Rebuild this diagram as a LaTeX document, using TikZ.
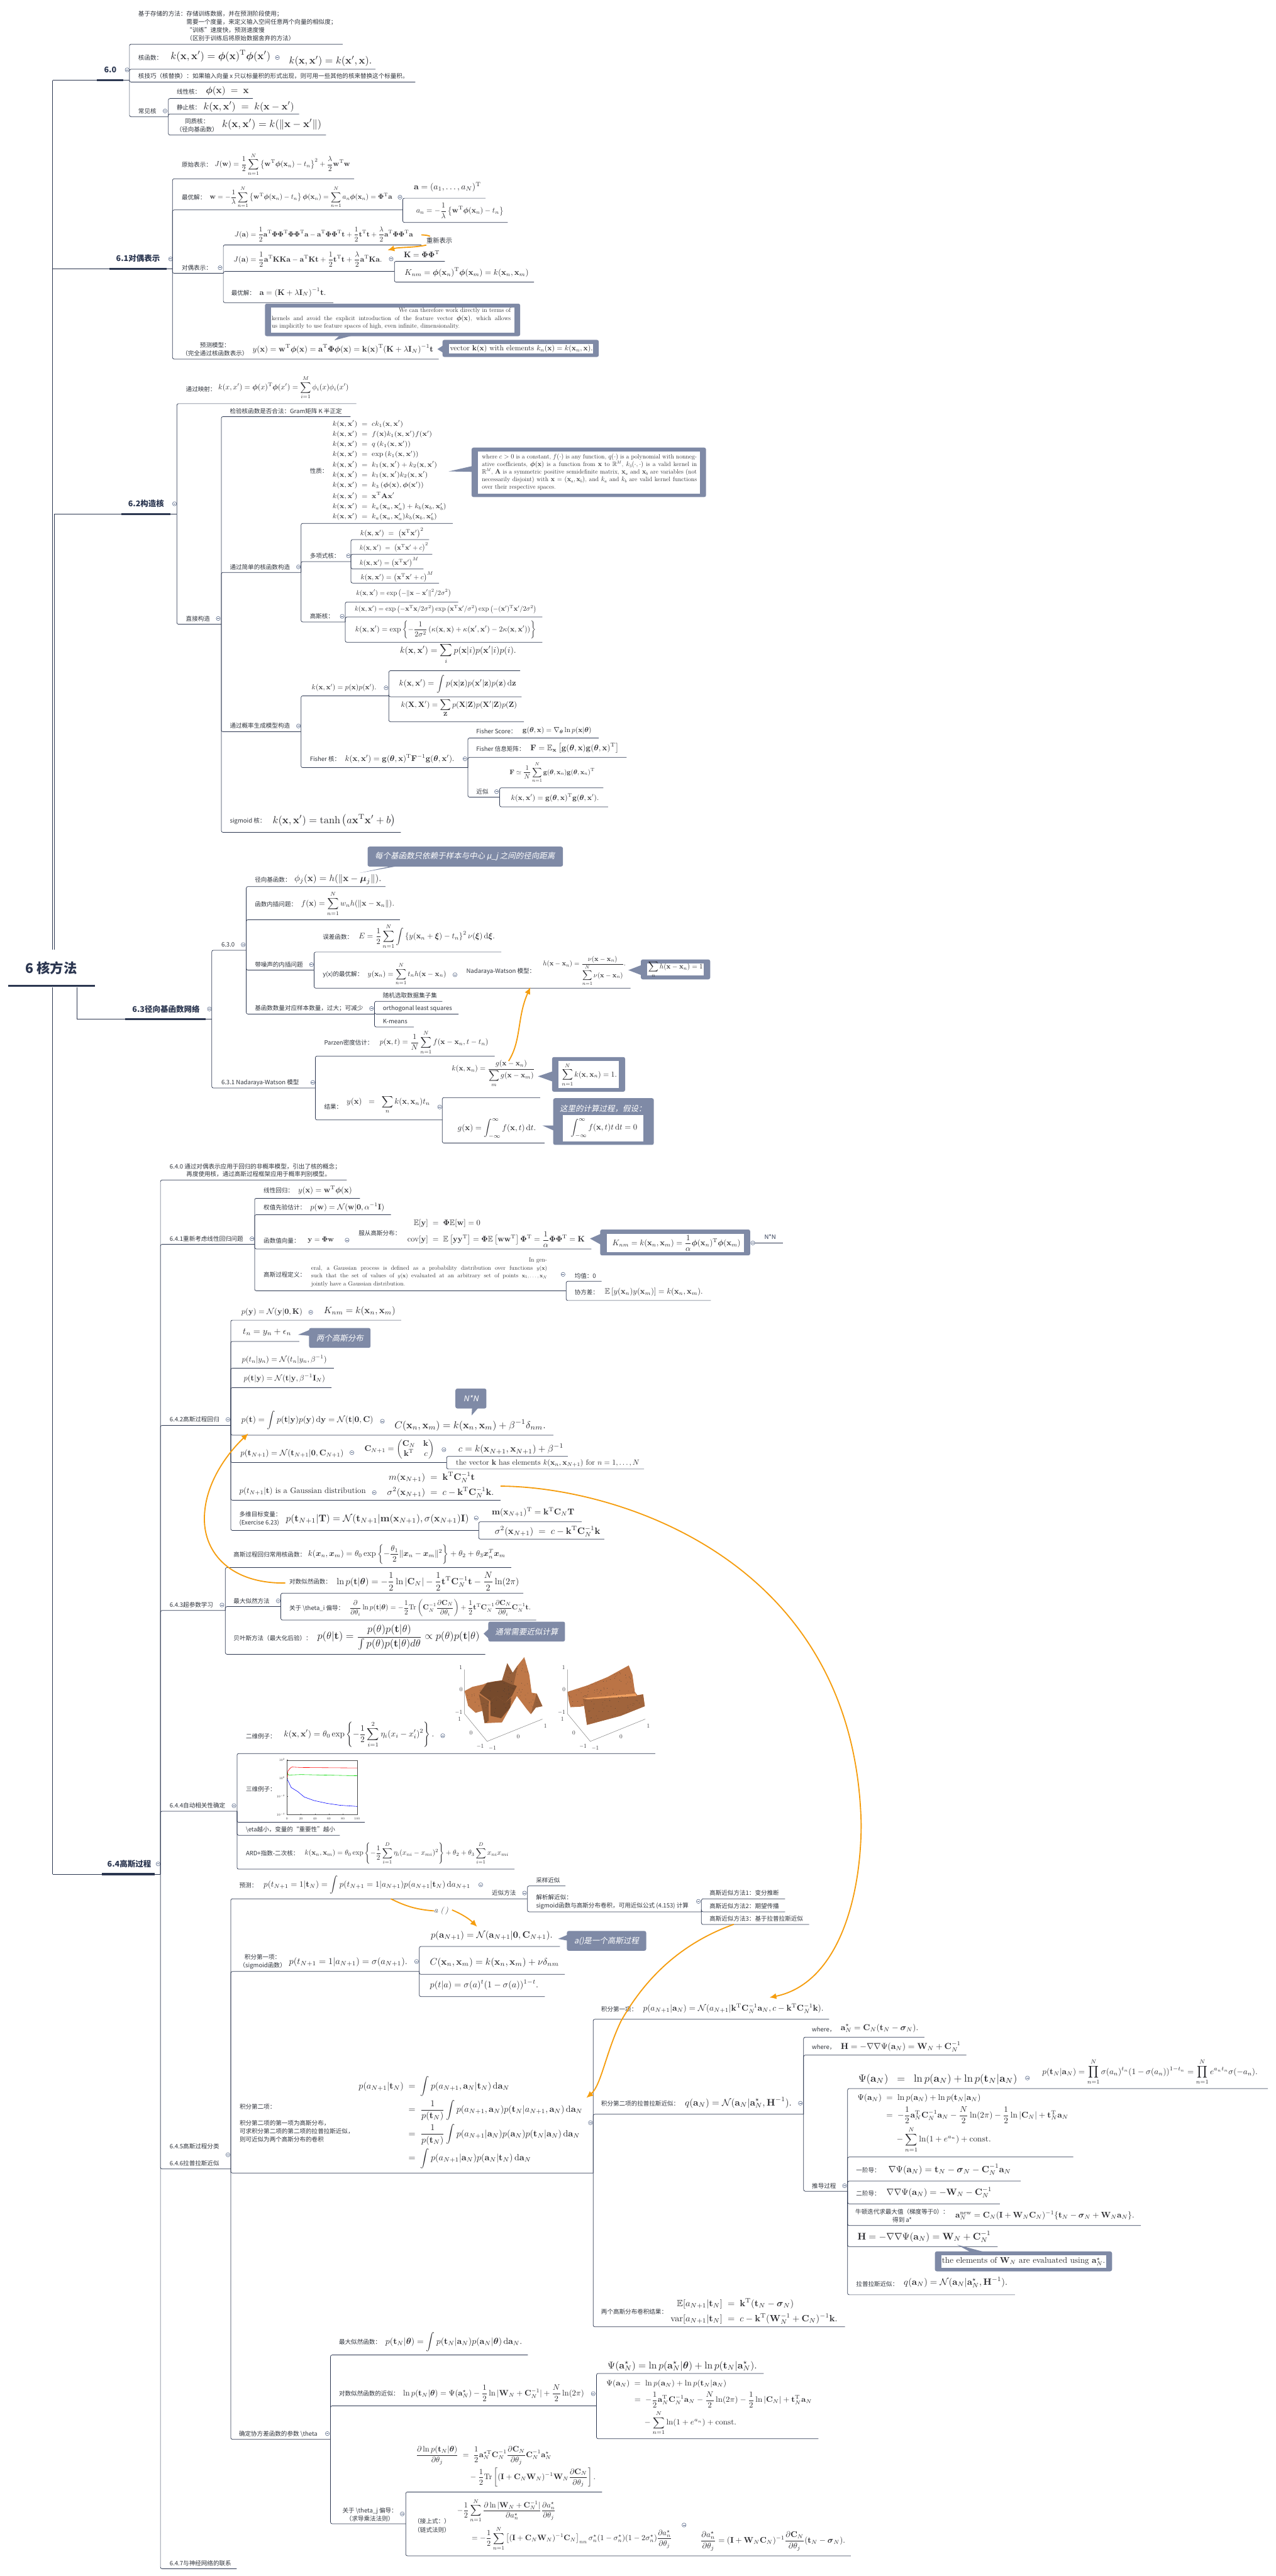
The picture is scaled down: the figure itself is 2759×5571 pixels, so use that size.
\documentclass[tikz,border=0pt]{standalone}
\usepackage{amsmath,amssymb,graphicx}
\usepackage[no-math]{fontspec}
\usetikzlibrary{arrows.meta}
\newfontfamily\cjk{Noto Sans CJK SC}
\newfontfamily\cjkit[FakeSlant=0.2]{Noto Sans CJK SC}
\definecolor{ink}{HTML}{2B3650}
\definecolor{txt}{HTML}{30343C}
\definecolor{calf}{HTML}{7F8AA6}
\definecolor{org}{HTML}{F59D0E}
\definecolor{colm}{HTML}{5A6A8A}
\definecolor{fcol}{HTML}{26262A}
\def\bx{\mathbf{x}}\def\bxp{\mathbf{x}'}\def\ba{\mathbf{a}}\def\bt{\mathbf{t}}\def\bk{\mathbf{k}}
\def\bC{\mathbf{C}}\def\bK{\mathbf{K}}\def\bW{\mathbf{W}}\def\bI{\mathbf{I}}\def\bH{\mathbf{H}}
\def\bF{\mathbf{F}}\def\bg{\mathbf{g}}\def\bw{\mathbf{w}}\def\by{\mathbf{y}}\def\bz{\mathbf{z}}
\def\bA{\mathbf{A}}\def\bX{\mathbf{X}}\def\bZ{\mathbf{Z}}\def\bT{\mathbf{T}}
\def\vphi{\boldsymbol{\phi}}\def\bPhi{\mathbf{\Phi}}\def\bth{\boldsymbol{\theta}}\def\bsig{\boldsymbol{\sigma}}
\def\TT{\mathrm{T}}\def\dd{\mathrm{d}}\def\NN{\mathcal{N}}\def\EE{\mathbb{E}}
\def\kxx{k(\bx,\bxp)}
\tikzset{
 conn/.style={draw=ink,line width=1pt,rounded corners=3.5pt},
 thick/.style={draw=ink,line width=5pt},
 lab/.style={font=\cjk\fontsize{13}{17.5}\selectfont,text=txt,inner sep=0pt,anchor=west,align=left},
 labc/.style={font=\cjk\fontsize{13}{18}\selectfont,text=txt,inner sep=0pt,align=center},
 ttl/.style={font=\cjk\bfseries\fontsize{17}{20}\selectfont,text=ink,inner sep=0pt,anchor=west},
 calt/.style={font=\cjkit\fontsize{17}{20}\selectfont,text=white,inner sep=0pt},
 fmn/.style={inner sep=0pt,anchor=west,text=fcol},
 para/.style={font=\fontsize{13.3}{17}\selectfont,text=fcol,inner sep=0pt,anchor=north west,align=justify},
 colc/.style={draw=colm,line width=.8pt},
 oarr/.style={draw=org,line width=2.5pt,-{Latex[length=15pt,width=13pt]}},
 oline/.style={draw=org,line width=2.5pt},
 tick/.style={font=\fontsize{13}{14}\selectfont,text=fcol,inner sep=0pt},
 tick2/.style={font=\fontsize{7}{8}\selectfont,text=fcol,inner sep=0pt},
}
\newcommand\tp[4]{\coordinate (#1-l) at (#2-r |- 0,#4);\coordinate (#1-r) at (#3,#4);\draw[conn] (#1-r) -- (#1-l) -- (#2-r);}
\newcommand\lab[4]{\node[lab] (#1) at (#2,#3) {#4};}
\newcommand\labc[4]{\node[labc] (#1) at (#2,#3) {#4};}
\newcommand\fm[5]{\node[fmn] (#1) at (#2,#4) {\resizebox{\dimexpr #3pt-#2pt\relax}{!}{$\displaystyle #5$}};}
\newcommand\fmb[6]{\node[fmn] (#1) at (#2,{(#4+#5)/2}) {\resizebox*{\dimexpr #3pt-#2pt\relax}{\dimexpr #5pt-#4pt\relax}{$\displaystyle #6$}};}
\newcommand\col[2]{\draw[colc] (#1,#2) circle[radius=4.4pt];\draw[colc] (#1,#2) ++(-2.6pt,0) -- ++(5.2pt,0);}
\newcommand\calrect[8]{\fill[calf,rounded corners=4pt] (#1,#2) rectangle (#3,#4);\fill[white] (#5,#6) rectangle (#7,#8);}
\newcommand\calsolid[4]{\fill[calf,rounded corners=4pt] (#1,#2) rectangle (#3,#4);}
\newcommand\tail[6]{\fill[calf] (#1,#2) -- (#3,#4) -- (#5,#6) -- cycle;}
\newcommand\head[6]{\coordinate (#1-l) at (#2,#6);\coordinate (#1-r) at (#5,#6);\draw[conn,rounded corners=0pt] (#1-l) -- (#1-r);\draw[thick] (#3,#6) -- (#4,#6);}
\begin{document}
\begin{tikzpicture}[x=1pt,y=-1pt]
\path[use as bounding box] (0,0) rectangle (2759,5571);
% ===== root
\coordinate (root-up) at (114,2054);
\coordinate (root-up2) at (117.5,2054);
\coordinate (root-dn) at (114,2135);
\coordinate (root-br) at (166.5,2135);
\node[font=\cjk\bfseries\fontsize{29}{32}\selectfont,text=ink,inner sep=0pt,anchor=west] (root) at (55,2094) {6 核方法};
\draw[thick] (18,2132) -- (205,2132);
% ===== level 1
\head{h0}{114}{210}{267}{280}{173.5}
\draw[conn] (h0-l) -- (root-up);
\node[ttl] (t0) at (225,150.5) {6.0}; \col{275}{151}
\head{h1}{114}{236}{360}{373}{581.5}
\draw[conn] (h1-l) -- (root-up);
\node[ttl] (t1) at (251,559) {6.1对偶表示}; \col{369}{560}
\head{h2}{117.5}{262}{369}{382.5}{1112}
\draw[conn] (h2-l) -- (root-up2);
\node[ttl] (t2) at (277,1089) {6.2构造核}; \col{377.5}{1089.5}
\head{h3}{166.5}{270}{445}{458}{2204}
\draw[conn] (h3-l) -- (root-br);
\node[ttl] (t3) at (286,2182) {6.3径向基函数网络}; \col{453}{2182}
\head{h4}{114}{220}{334}{347}{4053}
\draw[conn] (h4-l) -- (root-dn);
\node[ttl] (t4) at (232,4031) {6.4高斯过程}; \col{342}{4031}
% ===== 6.0
\tp{a1}{h0}{741}{95.4}
\node[lab] (a1t) at (299,56) {基于存储的方法：存储训练数据，并在预测阶段使用；\\\hspace*{104pt}需要一个度量，来定义输入空间任意两个向量的相似度；\\\hspace*{104pt}“训练”速度快，预测速度慢\\\hspace*{104pt}（区别于训练后将原始数据舍弃的方法）};
\tp{a2}{h0}{812}{149.5}
\lab{a2t}{299}{125}{核函数：}
\fm{a2f}{369}{585}{121.5}{\kxx=\vphi(\bx)^{\TT}\vphi(\bxp)} \col{600}{124.5}
\fm{a2g}{625}{804}{132.6}{\kxx=k(\bxp,\bx).}
\tp{a3}{h0}{898}{177.5}
\lab{a3t}{299}{165}{核技巧（核替换）：如果输入向量 x 只以标量积的形式出现，则可用一些其他的核来替换这个标量积。}
\tp{a4}{h0}{364}{252.5}
\lab{a4t}{299}{240}{常见核} \col{357}{240}
\tp{a41}{a4}{547}{213}
\lab{a41t}{382}{198}{线性核：} \fm{a41f}{445}{538}{197}{\vphi(\bx)\;=\;\bx}
\tp{a42}{a4}{647}{246.4}
\lab{a42t}{382}{232}{静止核：} \fm{a42f}{440}{636}{231}{\kxx\;=\;k(\bx-\bxp)}
\tp{a43}{a4}{705}{292}
\labc{a43t}{426}{271}{同质核：\\（径向基函数）} \fm{a43f}{480}{695}{269}{\kxx=k(\|\bx-\bxp\|)}
% ===== 6.1
\tp{b1}{h1}{766}{386.7}
\lab{b1t}{393}{355.6}{原始表示：}
\fm{b1f}{464}{757}{355.6}{J(\bw)=\frac12\sum_{n=1}^N\left\{\bw^{\TT}\vphi(\bx_n)-t_n\right\}^2+\frac\lambda2\bw^{\TT}\bw}
\tp{b2}{h1}{871}{454}
\lab{b2t}{393}{426.5}{最优解：}
\fm{b2f}{453.6}{848}{426.5}{\bw=-\frac1\lambda\sum_{n=1}^N\left\{\bw^{\TT}\vphi(\bx_n)-t_n\right\}\vphi(\bx_n)=\sum_{n=1}^N a_n\vphi(\bx_n)=\bPhi^{\TT}\ba} \col{865}{426.5}
\tp{b21}{b2}{1050}{428.6}
\fm{b21f}{895}{1040}{404.6}{\ba=(a_1,\dots,a_N)^{\TT}}
\tp{b22}{b2}{1098}{481}
\fm{b22f}{900}{1089}{455.6}{a_n=-\frac1\lambda\left\{\bw^{\TT}\vphi(\bx_n)-t_n\right\}}
\tp{b3}{h1}{483}{591}
\lab{b3t}{393}{579}{对偶表示：} \col{476}{579}
\tp{b31}{b3}{911}{529.6}
\fm{b31f}{507}{893}{506.6}{J(\ba)=\frac12\ba^{\TT}\bPhi\bPhi^{\TT}\bPhi\bPhi^{\TT}\ba-\ba^{\TT}\bPhi\bPhi^{\TT}\bt+\frac12\bt^{\TT}\bt+\frac\lambda2\ba^{\TT}\bPhi\bPhi^{\TT}\ba}
\tp{b32}{b3}{853}{587}
\fm{b32f}{505}{826}{561}{J(\ba)=\frac12\ba^{\TT}\bK\bK\ba-\ba^{\TT}\bK\bt+\frac12\bt^{\TT}\bt+\frac\lambda2\ba^{\TT}\bK\ba.} \col{846}{560}
\tp{b321}{b32}{962}{565}
\fm{b321f}{873}{951}{549.5}{\bK=\bPhi\bPhi^{\TT}}
\tp{b322}{b32}{1155}{610}
\fm{b322f}{875}{1143}{589}{K_{nm}=\vphi(\bx_n)^{\TT}\vphi(\bx_m)=k(\bx_n,\bx_m)}
\tp{b33}{b3}{721}{654.6}
\lab{b33t}{500}{634}{最优解：} \fm{b33f}{561}{705}{632.6}{\ba=(\bK+\lambda\bI_N)^{-1}\bt.}
\tp{b4}{h1}{949}{776.5}
\labc{b4t}{465}{755}{预测模型：\\（完全通过核函数表示）}
\fm{b4f}{546}{937}{755}{y(\bx)=\bw^{\TT}\vphi(\bx)=\ba^{\TT}\bPhi\vphi(\bx)=\bk(\bx)^{\TT}(\bK+\lambda\bI_N)^{-1}\bt}
% callouts 6.1
\tail{723}{736}{735}{725}{765}{725}
\calrect{573}{656.6}{1125}{727}{586}{665}{1112}{719}
\node[para,text width=517pt] (b5t) at (587.5,666) {\hspace*{\fill}We can therefore work directly in terms of\linebreak kernels and avoid the explicit introduction of the feature vector $\vphi(\bx)$, which allows\linebreak us implicitly to use feature spaces of high, even infinite, dimensionality.};
\tail{946}{755}{960}{746}{960}{764}
\calrect{957}{735}{1295}{772}{971}{744}{1282}{764}
\node[fmn] (b6t) at (973,754) {\resizebox{309pt}{!}{vector $\bk(\bx)$ with elements $k_n(\bx)=k(\bx_n,\bx)$.}};
% orange 1
\node[lab,font=\cjk\fontsize{14}{16}\selectfont] (chg) at (922,520) {重新表示};
\coordinate (o1s) at (911,508); \coordinate (o1e) at (838,541);
\draw[oline] (o1s) .. controls (918,508) and (926,509) .. (930,511);
\draw[oarr] (922,530) .. controls (895,536) and (865,534) .. (o1e);
% ===== 6.2
\tp{c1}{h2}{770.5}{873}
\lab{c1t}{402}{841.5}{通过映射：}
\fm{c1f}{472}{754}{838}{k(x,x')=\vphi(x)^{\TT}\vphi(x')=\sum_{i=1}^M\phi_i(x)\phi_i(x')}
\tp{c2}{h2}{478.6}{1350}
\lab{c2t}{402}{1337.6}{直接构造} \col{472}{1337.6}
\tp{c3}{c2}{758}{901}
\lab{c3t}{497}{889}{检验核函数是否合法：Gram矩阵 K 半正定}
\tp{c4}{c2}{651}{1238}
\lab{c4t}{497}{1226}{通过简单的核函数构造} \col{645.6}{1226}
\tp{c41}{c4}{979}{1132}
\lab{c41t}{670}{1019}{性质：}
\fmb{c41f}{719}{965}{909}{1127}{\begin{aligned}\kxx&\;=\;ck_1(\bx,\bxp)\\\kxx&\;=\;f(\bx)k_1(\bx,\bxp)f(\bxp)\\\kxx&\;=\;q\left(k_1(\bx,\bxp)\right)\\\kxx&\;=\;\exp\left(k_1(\bx,\bxp)\right)\\\kxx&\;=\;k_1(\bx,\bxp)+k_2(\bx,\bxp)\\\kxx&\;=\;k_1(\bx,\bxp)k_2(\bx,\bxp)\\\kxx&\;=\;k_3\left(\vphi(\bx),\vphi(\bxp)\right)\\\kxx&\;=\;\bx^{\TT}\bA\bxp\\\kxx&\;=\;k_a(\bx_a,\bx_a')+k_b(\bx_b,\bx_b')\\\kxx&\;=\;k_a(\bx_a,\bx_a')k_b(\bx_b,\bx_b')\end{aligned}}
\tail{970.5}{1019.4}{1021}{1008}{1021}{1020.5}
\calrect{1020}{968}{1527}{1075}{1034}{977}{1514}{1067}
\node[para,font=\fontsize{13.4}{16.5}\selectfont,text width=465pt] (c41c) at (1042,981) {where $c>0$ is a constant, $f(\cdot)$ is any function, $q(\cdot)$ is a polynomial with nonneg-\linebreak ative coefficients, $\vphi(\bx)$ is a function from $\bx$ to $\mathbb{R}^M$, $k_3(\cdot,\cdot)$ is a valid kernel in\linebreak $\mathbb{R}^M$, $\bA$ is a symmetric positive semidefinite matrix, $\bx_a$ and $\bx_b$ are variables (not\linebreak necessarily disjoint) with $\bx=(\bx_a,\bx_b)$, and $k_a$ and $k_b$ are valid kernel functions\linebreak over their respective spaces.};
\tp{c42}{c4}{759}{1214.5}
\lab{c42t}{670}{1202}{多项式核：} \col{753.7}{1202}
\tp{c421}{c42}{928}{1167} \fm{c421f}{779}{916}{1152.7}{\kxx\;=\;\left(\bx^{\TT}\bxp\right)^2}
\tp{c422}{c42}{935}{1198.6} \fm{c422f}{777.5}{926}{1184}{\kxx\;=\;\left(\bx^{\TT}\bxp+c\right)^2}
\tp{c423}{c42}{916}{1230.5} \fm{c423f}{777.5}{905}{1216.5}{\kxx=\left(\bx^{\TT}\bxp\right)^M}
\tp{c424}{c42}{949.5}{1261} \fm{c424f}{780}{937}{1247.7}{\kxx=\left(\bx^{\TT}\bxp+c\right)^M}
\tp{c43}{c4}{746.7}{1345}
\lab{c43t}{670}{1333}{高斯核：} \col{740}{1333}
\tp{c431}{c43}{991}{1302} \fm{c431f}{770}{975.5}{1283}{\kxx=\exp\left(-\|\bx-\bxp\|^2/2\sigma^2\right)}
\tp{c432}{c43}{1173}{1334.4} \fm{c432f}{767}{1160}{1318}{\kxx=\exp\left(-\bx^{\TT}\bx/2\sigma^2\right)\exp\left(\bx^{\TT}\bxp/\sigma^2\right)\exp\left(-(\bxp)^{\TT}\bxp/2\sigma^2\right)}
\tp{c433}{c43}{1173}{1389} \fm{c433f}{768}{1159}{1362}{\kxx=\exp\left\{-\frac1{2\sigma^2}\left(\kappa(\bx,\bx)+\kappa(\bxp,\bxp)-2\kappa(\bx,\bxp)\right)\right\}}
\tp{c5}{c2}{651}{1582.5}
\lab{c5t}{497}{1570}{通过概率生成模型构造} \col{645.6}{1570}
\tp{c51}{c5}{841}{1505}
\fm{c51f}{674}{814}{1487.5}{\kxx=p(\bx)p(\bxp).} \col{835}{1487.5}
\tp{c511}{c51}{1125}{1450.5} \fm{c511f}{865}{1116}{1414}{\kxx=\sum_i p(\bx|i)p(\bxp|i)p(i).}
\tp{c512}{c51}{1128}{1507} \fm{c512f}{863}{1116}{1479}{\kxx=\int p(\bx|\bz)p(\bxp|\bz)p(\bz)\,\dd\bz}
\tp{c513}{c51}{1133}{1561} \fm{c513f}{867}{1118}{1531}{k(\bX,\bX')=\sum_{\bZ}p(\bX|\bZ)p(\bX'|\bZ)p(\bZ)}
\tp{c52}{c5}{1012}{1660}
\lab{c52t}{670}{1641}{Fisher 核：} \fm{c52f}{746}{982.5}{1641}{\kxx=\bg(\bth,\bx)^{\TT}\bF^{-1}\bg(\bth,\bxp).} \col{1005.6}{1641}
\tp{c521}{c52}{1295}{1596}
\lab{c521t}{1030}{1581}{Fisher Score：} \fm{c521f}{1130}{1279}{1580}{\bg(\bth,\bx)=\nabla_{\bth}\ln p(\bx|\bth)}
\tp{c522}{c52}{1355}{1638}
\lab{c522t}{1030}{1620}{Fisher 信息矩阵：} \fm{c522f}{1147}{1338}{1618}{\bF=\EE_{\bx}\left[\bg(\bth,\bx)\bg(\bth,\bx)^{\TT}\right]}
\tp{c523}{c52}{1080.7}{1724}
\lab{c523t}{1030}{1712}{近似} \col{1074}{1712}
\tp{c5231}{c523}{1305}{1703.7} \fm{c5231f}{1102}{1286}{1670.5}{\bF\simeq\frac1N\sum_{n=1}^N\bg(\bth,\bx_n)\bg(\bth,\bx_n)^{\TT}}
\tp{c5232}{c523}{1315}{1745} \fm{c5232f}{1105}{1295}{1725}{\kxx=\bg(\bth,\bx)^{\TT}\bg(\bth,\bxp).}
\tp{c6}{c2}{867}{1800}
\lab{c6t}{497}{1776}{sigmoid 核：} \fm{c6f}{589.5}{855}{1774.5}{\kxx=\tanh\left(a\bx^{\TT}\bxp+b\right)}
% ===== 6.3
\tp{d1}{h3}{532.6}{2055}
\lab{d1t}{478.6}{2043}{6.3.0} \col{526}{2043}
\tp{d11}{d1}{833.7}{1917.4}
\lab{d11t}{551}{1903}{径向基函数：} \fm{d11f}{636.5}{824.6}{1902}{\phi_j(\bx)=h(\|\bx-\boldsymbol{\mu}_j\|).}
\tail{777}{1888}{842}{1874}{877}{1870}
\calsolid{795}{1831}{1217.5}{1874}
\node[calt,anchor=west] (d11c) at (810.5,1852.7) {每个基函数只依赖于样本与中心 μ\_j 之间的径向距离};
\tp{d12}{d1}{865}{1989}
\lab{d12t}{551}{1956}{函数内插问题：} \fm{d12f}{651}{852.6}{1954.5}{f(\bx)=\sum_{n=1}^N w_nh(\|\bx-\bx_n\|).}
\tp{d13}{d1}{679.3}{2098}
\lab{d13t}{551}{2086}{带噪声的内插问题} \col{673.7}{2086}
\tp{d131}{d13}{1084}{2059}
\lab{d131t}{698}{2027}{误差函数：} \fm{d131f}{775.4}{1070}{2025.4}{E=\frac12\sum_{n=1}^N\int\left\{y(\bx_n+\boldsymbol{\xi})-t_n\right\}^2\nu(\boldsymbol{\xi})\,\dd\boldsymbol{\xi}.}
\tp{d132}{d13}{1363.5}{2137}
\lab{d132t}{698}{2108}{y(x)的最优解：} \fm{d132f}{795}{965}{2106.7}{y(\bx_n)=\sum_{n=1}^N t_nh(\bx-\bx_n)} \col{984}{2108}
\lab{d133t}{1008.4}{2101}{Nadaraya-Watson 模型：} \fm{d133f}{1174}{1353}{2100}{h(\bx-\bx_n)=\frac{\nu(\bx-\bx_n)}{\displaystyle\sum_{n=1}^N\nu(\bx-\bx_n)}.}
\tail{1359}{2098}{1390}{2086}{1390}{2110}
\calrect{1386}{2075}{1536}{2118}{1400}{2084}{1522}{2109}
\fm{d134f}{1402}{1520}{2096.5}{\sum_n h(\bx-\bx_n)=1}
\tp{d14}{d1}{810}{2193}
\lab{d14t}{551}{2181}{基函数数量对应样本数量，过大；可减少} \col{803.5}{2181}
\tp{d141}{d14}{956.5}{2165.6} \lab{d141t}{828}{2153}{随机选取数据集子集}
\tp{d142}{d14}{991.6}{2193} \lab{d142t}{828}{2181.7}{orthogonal least squares}
\tp{d143}{d14}{895}{2221} \lab{d143t}{828}{2209.4}{K-means}
\tp{d2}{h3}{682}{2353}
\lab{d2t}{478.6}{2341}{6.3.1  Nadaraya-Watson 模型} \col{676.5}{2341}
\tp{d21}{d2}{1070}{2284}
\lab{d21t}{701}{2255}{Parzen密度估计：} \fm{d21f}{821}{1056}{2254.5}{p(\bx,t)=\frac1N\sum_{n=1}^N f(\bx-\bx_n,t-t_n)}
\tp{d22}{d2}{956.5}{2422}
\lab{d22t}{701}{2394}{结果：} \fm{d22f}{749.5}{930}{2389}{y(\bx)\;\;=\;\;\sum_n k(\bx,\bx_n)t_n} \col{951}{2394}
\tp{d221}{d22}{1168}{2373.7} \fm{d221f}{977}{1156}{2322}{k(\bx,\bx_n)=\frac{g(\bx-\bx_n)}{\displaystyle\sum_m g(\bx-\bx_m)}}
\tp{d222}{d22}{1177.5}{2472} \fm{d222f}{989.5}{1159}{2440.6}{g(\bx)=\int_{-\infty}^{\infty}f(\bx,t)\,\dd t.}
\tail{1163.5}{2327.7}{1198}{2316}{1198}{2340}
\calrect{1194}{2286}{1352}{2361}{1208}{2295}{1339}{2353}
\fm{d223f}{1215}{1334}{2324}{\sum_{n=1}^N k(\bx,\bx_n)=1.}
\tail{1173}{2434}{1200}{2434}{1200}{2446}
\calsolid{1196.5}{2375}{1414}{2476}
\fill[white] (1217.5,2411.6) rectangle (1391.6,2469);
\node[calt,anchor=west] (d224t) at (1210.5,2397) {这里的计算过程，假设：};
\fm{d224f}{1234}{1378}{2440}{\int_{-\infty}^{\infty}f(\bx,t)t\,\dd t=0}
\coordinate (o2s) at (1100,2294.6); \coordinate (o2e) at (1147,2135);
\draw[oarr] (o2s) .. controls (1128,2250) and (1118,2200) .. (o2e);
% ===== 6.4
\tp{e0}{h4}{750}{2552}
\node[lab] (e0t) at (367,2531) {6.4.0 通过对偶表示应用于回归的非概率模型，引出了核的概念；\\\hspace*{36pt}再度使用核，通过高斯过程框架应用于概率判别模型。};
\tp{e1}{h4}{550.7}{2691}
\lab{e1t}{367}{2679}{6.4.1重新考虑线性回归问题} \col{545}{2679}
\tp{e11}{e1}{778.5}{2591.5}
\lab{e11t}{570}{2574}{线性回归：} \fm{e11f}{644.5}{761}{2573.7}{y(\bx)=\bw^{\TT}\vphi(\bx)}
\tp{e12}{e1}{845.5}{2627}
\lab{e12t}{570}{2611.6}{权值先验估计：} \fm{e12f}{671}{831}{2611.6}{p(\bw)=\NN(\bw|\mathbf{0},\alpha^{-1}\bI)}
\tp{e13}{e1}{1279}{2701}
\lab{e13t}{570}{2683}{函数值向量：} \fm{e13f}{665.5}{722}{2682}{\by=\bPhi\bw} \col{750.7}{2682}
\lab{e131t}{775.6}{2667}{服从高斯分布：}
\fm{e131f}{881}{1264.6}{2667}{\begin{aligned}\EE[\by]\;&=\;\bPhi\EE[\bw]=0\\\mathrm{cov}[\by]\;&=\;\EE\left[\by\by^{\TT}\right]=\bPhi\EE\left[\bw\bw^{\TT}\right]\bPhi^{\TT}=\frac1\alpha\bPhi\bPhi^{\TT}=\bK\end{aligned}}
\tail{1276}{2678.6}{1300}{2668}{1300}{2692}
\calrect{1298}{2659}{1622.5}{2715}{1312}{2668}{1609}{2707.6}
\fm{e132f}{1324}{1601.5}{2688.4}{K_{nm}=k(\bx_n,\bx_m)=\frac1\alpha\vphi(\bx_n)^{\TT}\vphi(\bx_m)}
\col{1628}{2688}
\coordinate (e133-s) at (1632,2687.5); \coordinate (e133-e) at (1693,2687.5);
\draw[conn] (e133-s) -- (e133-e);
\node[lab,text=ink] (e133t) at (1653,2675.4) {N*N};
\tp{e14}{e1}{1224.4}{2791.5}
\lab{e14t}{570}{2757}{高斯过程定义：}
\node[para,font=\fontsize{13}{17}\selectfont,text width=510pt] (e14p) at (673,2720) {\hspace*{\fill}In gen-\linebreak eral, a Gaussian process is defined as a probability distribution over functions $y(\bx)$\linebreak such that the set of values of $y(\bx)$ evaluated at an arbitrary set of points $\bx_1,\dots,\bx_N$\linebreak jointly have a Gaussian distribution.};
\col{1217.7}{2756}
\tp{e141}{e14}{1301}{2771} \lab{e141t}{1242.6}{2759}{均值：0}
\tp{e142}{e14}{1537.3}{2812.5} \lab{e142t}{1242.6}{2794.6}{协方差：} \fm{e142f}{1307.7}{1520}{2794.6}{\EE\left[y(\bx_n)y(\bx_m)\right]=k(\bx_n,\bx_m).}
% 6.4.2
\tp{e2}{h4}{499}{3082.6}
\lab{e2t}{367}{3070}{6.4.2高斯过程回归} \col{493}{3070}
\tp{e21}{e2}{867.5}{2855}
\fm{e21f}{522}{654}{2837}{p(\by)=\NN(\by|\mathbf{0},\bK)} \col{672}{2838} \fm{e21g}{700}{855}{2835}{K_{nm}=k(\bx_n,\bx_m)}
\tp{e22}{e2}{647.4}{2901}
\fm{e22f}{525}{630}{2881.7}{t_n=y_n+\epsilon_n}
\tail{644.5}{2886.6}{672}{2875}{672}{2889}
\calsolid{668.4}{2872}{801.4}{2915}
\node[calt] (e22c) at (735,2893.5) {两个高斯分布};
\tp{e23}{e2}{722}{2959} \fm{e23f}{523}{706.7}{2939.7}{p(t_n|y_n)=\NN(t_n|y_n,\beta^{-1})}
\tp{e24}{e2}{717}{3001} \fm{e24f}{527}{703}{2981}{p(\bt|\by)=\NN(\bt|\by,\beta^{-1}\bI_N)}
\tp{e25}{e2}{1196.6}{3103.6}
\fm{e25f}{522}{807}{3071.4}{p(\bt)=\int p(\bt|\by)p(\by)\,\dd\by=\NN(\bt|\mathbf{0},\bC)} \col{827}{3073.7}
\fm{e25g}{853}{1180}{3082.6}{C(\bx_n,\bx_m)=k(\bx_n,\bx_m)+\beta^{-1}\delta_{nm}.}
\tail{1020}{3061}{1021}{3044}{1035}{3044}
\calsolid{985}{3003}{1052}{3046}
\node[calt] (e25c) at (1018.5,3024.5) {N*N};
\tp{e26}{e2}{966}{3163}
\fm{e26f}{520}{743}{3143}{p(\bt_{N+1})=\NN(\bt_{N+1}|\mathbf{0},\bC_{N+1})} \col{761}{3141.5}
\fm{e26g}{788}{939}{3134}{\bC_{N+1}=\begin{pmatrix}\bC_N&\bk\\\bk^{\TT}&c\end{pmatrix}} \col{960}{3135}
\tp{e261}{e26}{1228}{3149.6} \fm{e261f}{991}{1218.7}{3134}{c=k(\bx_{N+1},\bx_{N+1})+\beta^{-1}}
\tp{e262}{e26}{1393}{3177} \fm{e262f}{986}{1383}{3164}{\text{the vector }\bk\text{ has elements }k(\bx_n,\bx_{N+1})\text{ for }n=1,\dots,N}
\tp{e27}{e2}{1082.5}{3244.4}
\fm{e27f}{517.5}{791}{3225.5}{p(t_{N+1}|\bt)\text{ is a Gaussian distribution}} \col{809.5}{3228}
\fm{e27g}{837}{1068}{3212}{\begin{aligned}m(\bx_{N+1})\;&=\;\bk^{\TT}\bC_N^{-1}\bt\\\sigma^2(\bx_{N+1})\;&=\;c-\bk^{\TT}\bC_N^{-1}\bk.\end{aligned}}
\tp{e28}{e2}{1035.4}{3309.7}
\lab{e28t}{517.5}{3284}{多维目标变量：\\(Exercise 6.23)}
\fm{e28f}{618}{1013.7}{3285}{p(\bt_{N+1}|\bT)=\NN(\bt_{N+1}|\mathbf{m}(\bx_{N+1}),\sigma(\bx_{N+1})\bI)} \col{1030}{3283}
\tp{e281}{e28}{1258}{3291} \fm{e281f}{1063.5}{1241.7}{3270.4}{\mathbf{m}(\bx_{N+1})^{\TT}=\bk^{\TT}\bC_N\bT}
\tp{e282}{e28}{1307}{3328.6} \fm{e282f}{1070}{1298}{3312}{\sigma^2(\bx_{N+1})\;=\;c-\bk^{\TT}\bC_N^{-1}\bk}
% 6.4.3
\tp{e3}{h4}{487.4}{3483}
\lab{e3t}{367}{3471}{6.4.3超参数学习} \col{480}{3471}
\tp{e31}{e3}{1105.6}{3390}
\lab{e31t}{505}{3361.7}{高斯过程回归常用核函数：}
\fm{e31f}{666}{1093}{3361.7}{k(\boldsymbol{x}_n,\boldsymbol{x}_m)=\theta_0\exp\left\{-\frac{\theta_1}2\|\boldsymbol{x}_n-\boldsymbol{x}_m\|^2\right\}+\theta_2+\theta_3\boldsymbol{x}_n^T\boldsymbol{x}_m}
\tp{e32}{e3}{607.4}{3474.5}
\lab{e32t}{505}{3462}{最大似然方法} \col{601.8}{3462}
\tp{e321}{e32}{1131.6}{3445.4}
\lab{e321t}{625.6}{3420}{对数似然函数：}
\fm{e321f}{728}{1122.5}{3420}{\ln p(\bt|\bth)=-\frac12\ln|\bC_N|-\frac12\bt^{\TT}\bC_N^{-1}\bt-\frac N2\ln(2\pi)}
\tp{e322}{e32}{1159.6}{3503.6}
\lab{e322t}{625.6}{3477.6}{关于 \textbackslash theta\_i 偏导：}
\fm{e322f}{756}{1147.7}{3477.6}{\frac{\partial}{\partial\theta_i}\ln p(\bt|\bth)=-\frac12\mathrm{Tr}\left(\bC_N^{-1}\frac{\partial\bC_N}{\partial\theta_i}\right)+\frac12\bt^{\TT}\bC_N^{-1}\frac{\partial\bC_N}{\partial\theta_i}\bC_N^{-1}\bt.}
\tp{e33}{e3}{1049.5}{3577.6}
\lab{e33t}{505}{3543.4}{贝叶斯方法（最大化后验）：}
\fm{e33f}{686}{1037}{3541}{p(\theta|\bt)=\frac{p(\theta)p(\bt|\theta)}{\int p(\theta)p(\bt|\theta)d\theta}\propto p(\theta)p(\bt|\theta)}
\tail{1046}{3533}{1058}{3522}{1058}{3545}
\calsolid{1056}{3507}{1222}{3550}
\node[calt] (e33c) at (1139,3528.5) {通常需要近似计算};
\coordinate (o3s) at (617,3423.5); \coordinate (o3e) at (537,3100);
\draw[oarr] (o3s) .. controls (500,3425) and (442,3360) .. (442,3285) .. controls (442,3210) and (490,3145) .. (o3e);
% 6.4.4
\tp{e4}{h4}{512.6}{3917}
\lab{e4t}{367}{3905}{6.4.4自动相关性确定} \col{506}{3905}
\tp{e41}{e4}{1417}{3792.3}
\lab{e41t}{531.6}{3754.6}{二维例子：}
\fm{e41f}{613.7}{938.6}{3751}{\kxx=\theta_0\exp\left\{-\frac12\sum_{i=1}^2\eta_i(x_i-x_i')^2\right\}.} \col{957.5}{3753.6}
\begin{scope}[shift={(950,3450)},x=0.357pt,y=-0.357pt]
 \draw[gray,line width=.7pt] (153,450)--(153,718)--(290,885)--(625,750);
 \draw[gray,line width=.7pt] (777,450)--(777,718)--(915,885)--(1248,750);
 \foreach \xa/\ya/\tl in {130/437/1,132/572/0,118/708/$-$1,123/750/1,192/832/0,248/915/$-$1,322/925/$-$1,478/856/0,643/790/1,753/437/1,755/572/0,741/708/$-$1,746/750/1,815/832/0,871/915/$-$1,945/925/$-$1,1101/856/0,1267/790/1}{\node[tick] at (\xa,\ya) {\tl};}
 \definecolor{s1}{RGB}{191,120,72}\definecolor{s2}{RGB}{118,74,44}\definecolor{s3}{RGB}{150,95,58}\definecolor{s4}{RGB}{140,88,52}\definecolor{s5}{RGB}{187,116,70}\definecolor{s6}{RGB}{160,100,60}\definecolor{s7}{RGB}{240,160,96}
 \def\surfA{(153,580)--(200,555)--(265,540)--(290,530)--(340,520)--(385,515)--(412,412)--(445,470)--(475,425)--(515,375)--(545,480)--(560,590)--(590,595)--(625,672)--(585,680)--(555,720)--(530,690)--(470,610)--(430,680)--(380,770)--(275,775)--(262,700)--(220,712)--(175,670)--cycle}
 \def\surfB{(777,585)--(900,545)--(1020,495)--(1148,425)--(1170,480)--(1185,585)--(1200,605)--(1235,600)--(1245,672)--(1100,730)--(895,785)--(878,670)--(855,675)--(795,678)--(785,640)--cycle}
 \fill[s1] \surfA;
 \fill[s2] (245,590)--(290,530)--(385,515)--(470,550)--(440,610)--(400,650)--(345,610)--(310,640)--(255,600)--cycle;
 \fill[s2] (310,640)--(345,610)--(400,650)--(435,620)--(430,680)--(375,745)--(310,730)--cycle;
 \fill[s3] (380,515)--(412,412)--(445,470)--(475,425)--(450,545)--cycle;
 \fill[s3] (555,720)--(590,595)--(625,672)--(585,680)--cycle;
 \fill[s4] (262,700)--(240,600)--(300,640)--(300,760)--(275,775)--cycle;
 \fill[s5] \surfB;
 \fill[s6] (878,670)--(870,625)--(1195,610)--(1235,600)--(1245,672)--(1100,730)--(895,785)--cycle;
 \fill[s7] (870,625)--(1190,595)--(1195,610)--(900,630)--cycle;
 \pgfmathsetseed{11}
 \begin{scope}
  \clip \surfA;
  \foreach \i in {1,...,220}{\pgfmathsetmacro\px{153+472*rnd}\pgfmathsetmacro\py{375+400*rnd}\fill[black!80] (\px,\py) circle[radius=.5pt];}
 \end{scope}
 \begin{scope}
  \clip \surfB;
  \foreach \i in {1,...,220}{\pgfmathsetmacro\px{777+470*rnd}\pgfmathsetmacro\py{425+360*rnd}\fill[black!80] (\px,\py) circle[radius=.5pt];}
 \end{scope}
\end{scope}
\tp{e42}{e4}{789}{3941}
\lab{e42t}{531.6}{3869.4}{三维例子：}
\begin{scope}[shift={(300,3200)},x=0.7018pt,y=-0.5102pt]
 \draw[black!70,line width=.6pt] (457,1189) rectangle (673,1420);
 \foreach \yy/\ee in {1188/2,1265/0,1342/-2,1420/-4}{\node[tick2,anchor=east] at (450,\yy) {$10^{\ee}$};\draw[black!70,line width=.4pt] (457,\yy)--(461,\yy);}
 \foreach \xx/\ll in {457/0,500/20,543/40,586/60,629/80,673/100}{\node[tick2] at (\xx,1436) {\ll};\draw[black!70,line width=.4pt] (\xx,1420)--(\xx,1416);}
 \draw[red,line width=.8pt] (458,1262)--(460,1235)--(466,1224)--(472,1218)--(500,1220)--(673,1222);
 \draw[green!85!black,line width=.8pt] (458,1245)--(462,1252)--(500,1250)--(673,1255);
 \draw[blue,line width=.8pt] (458,1270)--(470,1305)--(490,1322)--(510,1345)--(540,1360)--(580,1372)--(620,1380)--(673,1385);
\end{scope}
\tp{e43}{e4}{735}{3969}
\lab{e43t}{531.6}{3957}{\textbackslash eta越小，变量的“重要性”越小}
\tp{e44}{e4}{1112.6}{4042.3}
\lab{e44t}{531.6}{4008}{ARD+指数-二次核：}
\fm{e44f}{659}{1100}{4008}{k(\bx_n,\bx_m)=\theta_0\exp\left\{-\frac12\sum_{i=1}^D\eta_i(x_{ni}-x_{mi})^2\right\}+\theta_2+\theta_3\sum_{i=1}^D x_{ni}x_{mi}}
% 6.4.5
\tp{e5}{h4}{499}{4690.7}
\node[lab,font=\cjk\fontsize{13}{36}\selectfont] (e5t) at (367,4660) {6.4.5高斯过程分类\\6.4.6拉普拉斯近似}; \col{493}{4660}
\tp{e51}{e5}{1140.7}{4106.5}
\lab{e51t}{517.5}{4077}{预测：}
\fm{e51f}{570}{1017}{4076}{p(t_{N+1}=1|\bt_N)=\int p(t_{N+1}=1|a_{N+1})p(a_{N+1}|\bt_N)\,\dd a_{N+1}} \col{1039.7}{4076}
\lab{e511t}{1063.6}{4094}{近似方法} \col{1134.4}{4094}
\tp{e512}{e51}{1222.8}{4078.6} \lab{e512t}{1159}{4066}{采样近似}
\tp{e513}{e51}{1517}{4134.6}
\node[lab] (e513t) at (1159.3,4113) {解析解近似：\\sigmoid函数与高斯分布卷积，可用近似公式 (4.153) 计算}; \col{1510.5}{4112}
\tp{e5131}{e513}{1698}{4106.5} \lab{e5131t}{1534.4}{4094.3}{高斯近似方法1：变分推断}
\tp{e5132}{e513}{1698}{4134.6} \lab{e5132t}{1534.4}{4122}{高斯近似方法2：期望传播}
\tp{e5133}{e513}{1750}{4162} \lab{e5133t}{1534.4}{4150}{高斯近似方法3：基于拉普拉斯近似}
\tp{e52}{e5}{906.7}{4263.7}
\labc{e52t}{568}{4242}{积分第一项：\\（sigmoid函数）}
\fm{e52f}{625}{881}{4243}{p(t_{N+1}=1|a_{N+1})=\sigma(a_{N+1}).} \col{901}{4242}
\tp{e521}{e52}{1211}{4209.6} \fm{e521f}{931.6}{1194.7}{4185.6}{p(\ba_{N+1})=\NN(\ba_{N+1}|\mathbf{0},\bC_{N+1}).}
\tail{1207}{4193}{1228}{4184}{1228}{4197}
\calsolid{1226}{4176}{1397.6}{4218.8}
\node[calt] (e521c) at (1311.8,4197.4) {a()是一个高斯过程};
\tp{e522}{e52}{1221.5}{4269.8} \fm{e522f}{929.7}{1209}{4244.8}{C(\bx_n,\bx_m)=k(\bx_n,\bx_m)+\nu\delta_{nm}}
\tp{e523}{e52}{1178.5}{4317.8} \fm{e523f}{929.7}{1164}{4292.8}{p(t|a)=\sigma(a)^t(1-\sigma(a))^{1-t}.}
\node[inner sep=0pt,font=\fontsize{17}{20}\selectfont\itshape,text=txt] (alab) at (954,4132.5) {a (\,)};
\coordinate (o4s) at (845.4,4106.5); \coordinate (o4e) at (1032,4167);
\draw[oline] (o4s) .. controls (880,4124) and (905,4130) .. (alab.west);
\draw[oarr] (alab.east) ++(8pt,2pt) .. controls (1000,4140) and (1015,4150) .. (o4e);
\tp{e53}{e5}{1282.8}{4699.4}
\node[lab] (e53t) at (518,4591) {积分第二项：\\[18pt]积分第二项的第一项为高斯分布，\\可求积分第二项的第二项的拉普拉斯近似，\\则可近似为两个高斯分布的卷积};
\fmb{e53f}{775.6}{1259.8}{4490.7}{4689.7}{\begin{aligned}p(a_{N+1}|\bt_N)\;&=\;\int p(a_{N+1},\ba_N|\bt_N)\,\dd\ba_N\\&=\;\frac1{p(\bt_N)}\int p(a_{N+1},\ba_N)p(\bt_N|a_{N+1},\ba_N)\,\dd\ba_N\\&=\;\frac1{p(\bt_N)}\int p(a_{N+1}|\ba_N)p(\ba_N)p(\bt_N|\ba_N)\,\dd\ba_N\\&=\;\int p(a_{N+1}|\ba_N)p(\ba_N|\bt_N)\,\dd\ba_N\end{aligned}}
\col{1277}{4590.7}
\tp{e531}{e53}{1793}{4367}
\lab{e531t}{1300}{4345}{积分第一项：} \fm{e531f}{1390.5}{1781}{4344}{p(a_{N+1}|\ba_N)=\NN(a_{N+1}|\bk^{\TT}\bC_N^{-1}\ba_N,c-\bk^{\TT}\bC_N^{-1}\bk).}
\tp{e532}{e53}{1738}{4572.4}
\lab{e532t}{1300}{4549.5}{积分第二项的拉普拉斯近似：} \fm{e532f}{1481}{1712}{4547.5}{q(\ba_N)=\NN(\ba_N|\ba_N^\star,\bH^{-1}).} \col{1731}{4548.5}
\tp{e5321}{e532}{1999}{4405.6} \lab{e5321t}{1756}{4389}{where，} \fm{e5321f}{1818}{1986}{4386}{\ba_N^\star=\bC_N(\bt_N-\bsig_N).}
\tp{e5322}{e532}{2090}{4444.4} \lab{e5322t}{1756}{4427.6}{where，} \fm{e5322f}{1818}{2077.7}{4426}{\bH=-\nabla\nabla\Psi(\ba_N)=\bW_N+\bC_N^{-1}}
\tp{e5323}{e532}{1833}{4738.8} \lab{e5323t}{1756}{4727}{推导过程} \col{1826.5}{4727}
\tp{g1}{e5323}{2742}{4516.8}
\fm{g1f}{1856}{2200}{4496.4}{\Psi(\ba_N)\;\;=\;\;\ln p(\ba_N)+\ln p(\bt_N|\ba_N)} \col{2222}{4494}
\fm{g1g}{2254}{2719.7}{4481}{p(\bt_N|\ba_N)=\prod_{n=1}^N\sigma(a_n)^{t_n}(1-\sigma(a_n))^{1-t_n}=\prod_{n=1}^N e^{a_nt_n}\sigma(-a_n).}
\tp{g2}{e5323}{2321}{4664.8}
\fmb{g2f}{1854.4}{2310.6}{4527}{4655}{\begin{aligned}\Psi(\ba_N)\;&=\;\ln p(\ba_N)+\ln p(\bt_N|\ba_N)\\&=\;-\frac12\ba_N^{\TT}\bC_N^{-1}\ba_N-\frac N2\ln(2\pi)-\frac12\ln|\bC_N|+\bt_N^{\TT}\ba_N\\&\quad\;-\sum_{n=1}^N\ln(1+e^{a_n})+\mathrm{const.}\end{aligned}}
\tp{g3}{e5323}{2207.6}{4716.8} \lab{g3t}{1851.5}{4694}{一阶导：} \fm{g3f}{1921}{2186.5}{4692}{\nabla\Psi(\ba_N)=\bt_N-\bsig_N-\bC_N^{-1}\ba_N}
\tp{g4}{e5323}{2162.4}{4766} \lab{g4t}{1851.5}{4744}{二阶导：} \fm{g4f}{1917}{2145}{4742}{\nabla\nabla\Psi(\ba_N)=-\bW_N-\bC_N^{-1}}
\tp{g5}{e5323}{2467.5}{4813}
\node[labc] (g5t) at (1951,4792) {牛顿迭代求最大值（梯度等于0）：\\得到 a*};
\fm{g5f}{2066}{2453}{4791}{\ba_N^{\mathrm{new}}=\bC_N(\bI+\bW_N\bC_N)^{-1}\{\bt_N-\bsig_N+\bW_N\ba_N\}.}
\tp{g6}{e5323}{2157.6}{4858.7} \fm{g6f}{1854.4}{2143}{4837.8}{\bH=-\nabla\nabla\Psi(\ba_N)=\bW_N+\bC_N^{-1}}
\tail{2070}{4854.6}{2100}{4871}{2132}{4871}
\calrect{2022}{4869}{2405}{4912}{2036}{4877.6}{2392}{4904}
\node[fmn] (g6c) at (2037,4891) {\resizebox{353pt}{!}{the elements of $\bW_N$ are evaluated using $\ba_N^\star$.}};
\tp{g7}{e5323}{2195}{4962.8} \lab{g7t}{1851.5}{4940}{拉普拉斯近似：} \fm{g7f}{1954.5}{2179}{4936}{q(\ba_N)=\NN(\ba_N|\ba_N^\star,\bH^{-1}).}
\tp{e533}{e53}{1827.5}{5032}
\lab{e533t}{1300}{5000}{两个高斯分布卷积结果：}
\fm{e533f}{1450}{1811}{4999}{\begin{aligned}\EE[a_{N+1}|\bt_N]\;&=\;\bk^{\TT}(\bt_N-\bsig_N)\\\mathrm{var}[a_{N+1}|\bt_N]\;&=\;c-\bk^{\TT}(\bW_N^{-1}+\bC_N)^{-1}\bk.\end{aligned}}
\tp{e54}{e5}{714.8}{5275.3}
\lab{e54t}{516.7}{5263.6}{确定协方差函数的参数 \textbackslash theta} \col{708}{5263}
\tp{e541}{e54}{1141.6}{5093}
\lab{e541t}{733}{5064.8}{最大似然函数：} \fm{e541f}{833.5}{1129}{5064.8}{p(\bt_N|\bth)=\int p(\bt_N|\ba_N)p(\ba_N|\bth)\,\dd\ba_N.}
\tp{e542}{e54}{1290}{5203}
\lab{e542t}{733}{5176.6}{对数似然函数的近似：} \fm{e542f}{871.8}{1263}{5175.5}{\ln p(\bt_N|\bth)=\Psi(\ba_N^\star)-\frac12\ln|\bW_N+\bC_N^{-1}|+\frac N2\ln(2\pi)} \col{1283}{5176.6}
\tp{e5421}{e542}{1651.7}{5133} \fm{e5421f}{1313.9}{1637}{5117}{\Psi(\ba_N^\star)=\ln p(\ba_N^\star|\bth)+\ln p(\bt_N|\ba_N^\star).}
\tp{e5422}{e542}{1770}{5274}
\fmb{e5422f}{1311}{1756}{5145.7}{5265.8}{\begin{aligned}\Psi(\ba_N)\;&=\;\ln p(\ba_N)+\ln p(\bt_N|\ba_N)\\&=\;-\frac12\ba_N^{\TT}\bC_N^{-1}\ba_N-\frac N2\ln(2\pi)-\frac12\ln|\bC_N|+\bt_N^{\TT}\ba_N\\&\quad\;-\sum_{n=1}^N\ln(1+e^{a_n})+\mathrm{const.}\end{aligned}}
\tp{e543}{e54}{877.5}{5458}
\labc{e543t}{800}{5438}{关于 \textbackslash theta\_j 偏导：\\（求导乘法法则）} \col{870}{5436.6}
\tp{e5431}{e543}{1302}{5389.3}
\fmb{e5431f}{899.5}{1288}{5290}{5378.7}{\begin{aligned}\frac{\partial\ln p(\bt_N|\bth)}{\partial\theta_j}\;&=\;\frac12\ba_N^{\star\TT}\bC_N^{-1}\frac{\partial\bC_N}{\partial\theta_j}\bC_N^{-1}\ba_N^\star\\&\quad-\frac12\mathrm{Tr}\left[(\bI+\bC_N\bW_N)^{-1}\bW_N\frac{\partial\bC_N}{\partial\theta_j}\right].\end{aligned}}
\tp{e5432}{e543}{1840}{5527.3}
\labc{e5432t}{934.5}{5461.8}{（接上式：）\\（链式法则）}
\fm{e5432f}{988.5}{1202}{5429.7}{-\frac12\sum_{n=1}^N\frac{\partial\ln|\bW_N+\bC_N^{-1}|}{\partial a_n^\star}\frac{\partial a_n^\star}{\partial\theta_j}}
\fm{e5432g}{1020}{1452.6}{5489.8}{=-\frac12\sum_{n=1}^N\left[(\bI+\bC_N\bW_N)^{-1}\bC_N\right]_{nn}\sigma_n^\star(1-\sigma_n^\star)(1-2\sigma_n^\star)\frac{\partial a_n^\star}{\partial\theta_j}}
\col{1479.4}{5460.7}
\fm{e5432h}{1514.8}{1827.7}{5496}{\frac{\partial a_n^\star}{\partial\theta_j}=(\bI+\bW_N\bC_N)^{-1}\frac{\partial\bC_N}{\partial\theta_j}(\bt_N-\bsig_N).}
\tp{e6}{h4}{512}{5555.3}
\lab{e6t}{367}{5543}{6.4.7与神经网络的联系}
% long orange arrows
\coordinate (o5s) at (1587,4161.6); \coordinate (o5e) at (1268,4537);
\draw[oarr] (o5s) .. controls (1480,4200) and (1400,4270) .. (1343,4371) .. controls (1310,4440) and (1300,4510) .. (o5e);
\coordinate (o6s) at (1082.5,3214); \coordinate (o6e) at (1664,4320);
\draw[oarr] (o6s) .. controls (1330,3215) and (1850,3370) .. (1862.5,3946) .. controls (1862,4110) and (1810,4290) .. (o6e);
\end{tikzpicture}
\end{document}
